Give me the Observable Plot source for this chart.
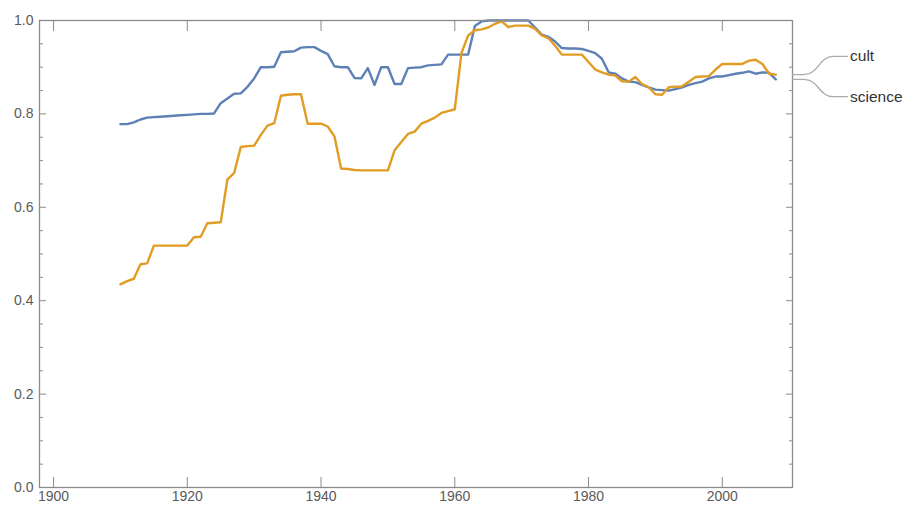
<!DOCTYPE html>
<html>
<head>
<meta charset="utf-8">
<script src="https://cdn.jsdelivr.net/npm/d3@7"></script>
<script src="https://cdn.jsdelivr.net/npm/@observablehq/plot@0.6"></script>
<style>
  html, body { margin: 0; padding: 0; background: #fff; }
</style>
</head>
<body>
<div id="chart"></div>
<script>
// ---- data ----
const years = d3.range(1910, 2009);

const science = [
  0.778, 0.778, 0.782, 0.788, 0.792, 0.793, 0.794, 0.795, 0.796, 0.797,
  0.798, 0.799, 0.800, 0.800, 0.801, 0.823, 0.833, 0.843, 0.844, 0.858,
  0.876, 0.900, 0.900, 0.901, 0.932, 0.933, 0.934, 0.942, 0.943, 0.943,
  0.935, 0.928, 0.902, 0.900, 0.900, 0.877, 0.876, 0.898, 0.862, 0.900,
  0.900, 0.864, 0.864, 0.898, 0.899, 0.900, 0.904, 0.905, 0.906, 0.927,
  0.927, 0.927, 0.927, 0.988, 0.998, 1.000, 1.000, 1.000, 1.000, 1.000,
  1.000, 1.000, 0.985, 0.970, 0.965, 0.955, 0.941, 0.940, 0.940, 0.939,
  0.935, 0.930, 0.918, 0.889, 0.886, 0.876, 0.869, 0.868, 0.862, 0.857,
  0.852, 0.851, 0.850, 0.853, 0.857, 0.862, 0.866, 0.869, 0.876, 0.880,
  0.880, 0.883, 0.886, 0.888, 0.891, 0.886, 0.889, 0.888, 0.874
];

const cult = [
  0.435, 0.442, 0.447, 0.478, 0.480, 0.518, 0.518, 0.518, 0.518, 0.518,
  0.518, 0.536, 0.537, 0.566, 0.567, 0.568, 0.660, 0.673, 0.729, 0.731,
  0.732, 0.755, 0.775, 0.780, 0.839, 0.841, 0.842, 0.842, 0.779, 0.779,
  0.779, 0.773, 0.752, 0.683, 0.682, 0.680, 0.679, 0.679, 0.679, 0.679,
  0.679, 0.722, 0.740, 0.757, 0.762, 0.779, 0.785, 0.792, 0.802, 0.806,
  0.810, 0.930, 0.968, 0.979, 0.981, 0.985, 0.993, 0.998, 0.986, 0.989,
  0.989, 0.989, 0.982, 0.968, 0.962, 0.946, 0.927, 0.927, 0.927, 0.927,
  0.911, 0.895, 0.889, 0.884, 0.882, 0.870, 0.869, 0.879, 0.864, 0.857,
  0.842, 0.841, 0.857, 0.858, 0.859, 0.869, 0.879, 0.880, 0.881, 0.895,
  0.907, 0.907, 0.907, 0.907, 0.914, 0.916, 0.907, 0.886, 0.884
];

const seriesNames = ["cult", "science"];
const seriesColors = ["#E19C24", "#5E81B5"];

const xTicks = [1900, 1920, 1940, 1960, 1980, 2000];
const yTicks = [0, 0.2, 0.4, 0.6, 0.8, 1.0];
const yMinorTicks = d3.range(0, 1.0001, 0.05).filter(v => Math.abs(v * 5 - Math.round(v * 5)) > 1e-6);

// ---- tables ----
const scienceData = years.map((year, i) => ({year, value: science[i]}));
const cultData = years.map((year, i) => ({year, value: cult[i]}));

const xDomain = [1897.9, 2010.5];
// callout leaders (label y offsets are styling)
const labelY = {cult: 0.923, science: 0.837};
const lastVal = {cult: cult[cult.length - 1], science: science[science.length - 1]};
const leaders = seriesNames.flatMap(name => [
  {name, x: xDomain[1], y: lastVal[name]},
  {name, x: xDomain[1] + 1.7, y: lastVal[name]},
  {name, x: xDomain[1] + 6.1, y: labelY[name]},
  {name, x: xDomain[1] + 8.2, y: labelY[name]}
]);
const labels = seriesNames.map(name => ({name, x: xDomain[1] + 8.6, y: labelY[name]}));

const frameColor = "#8c8c8c";
const textColor = "#5a5a5a";

const chart = Plot.plot({
  width: 908,
  height: 511,
  marginLeft: 39,
  marginRight: 116,
  marginTop: 20,
  marginBottom: 24,
  style: {fontFamily: "'Liberation Sans', Arial, sans-serif", fontSize: "14px", color: textColor, background: "#fff"},
  x: {domain: xDomain},
  y: {domain: [0, 1]},
  marks: [
    Plot.line(scienceData, {x: "year", y: "value", stroke: seriesColors[1], strokeWidth: 2.4}),
    Plot.line(cultData, {x: "year", y: "value", stroke: seriesColors[0], strokeWidth: 2.4}),
    Plot.frame({stroke: frameColor, strokeWidth: 1.3}),
    Plot.axisX(xTicks, {anchor: "bottom", tickSize: -10, tickPadding: 14, tickFormat: d => String(d), stroke: frameColor, fill: textColor, fontSize: 14, label: null}),
    Plot.axisX(xTicks, {anchor: "top", tickSize: -10, tickFormat: () => "", stroke: frameColor, label: null}),
    Plot.axisY(yTicks, {anchor: "left", tickSize: -7, tickPadding: 13, tickFormat: d3.format(".1f"), stroke: frameColor, fill: textColor, fontSize: 14, label: null}),
    Plot.axisY(yMinorTicks, {anchor: "left", tickSize: -4, tickFormat: () => "", stroke: frameColor, label: null}),
    Plot.axisY(yTicks, {anchor: "right", tickSize: -7, tickFormat: () => "", stroke: frameColor, label: null}),
    Plot.axisY(yMinorTicks, {anchor: "right", tickSize: -4, tickFormat: () => "", stroke: frameColor, label: null}),
    Plot.line(leaders, {x: "x", y: "y", z: "name", curve: "bump-x", stroke: "#aaa", strokeWidth: 1.3}),
    Plot.text(labels, {x: "x", y: "y", text: "name", textAnchor: "start", fill: "#333", fontSize: 15.5})
  ]
});

document.getElementById("chart").appendChild(chart);
</script>
</body>
</html>
